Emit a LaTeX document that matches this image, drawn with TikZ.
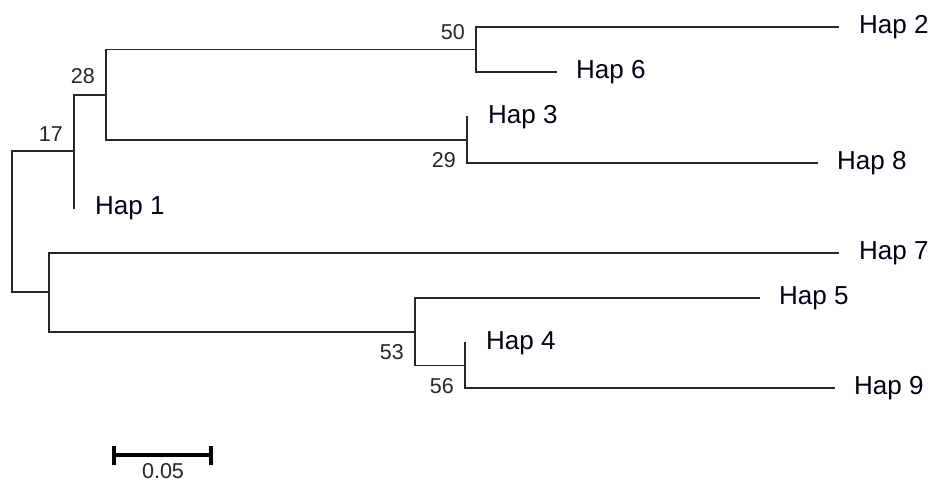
\documentclass[tikz,border=0pt]{standalone}
\usepackage{fontspec}
\setmainfont{Liberation Sans}
\begin{document}
\begin{tikzpicture}[x=1pt,y=-1pt,
  branch/.style={draw=black!85, line width=1.8pt, line cap=rect},
  taxon/.style={anchor=base west, inner sep=0pt, text=black!92!blue,
                font=\fontsize{26}{31}\selectfont},
  support/.style={anchor=base east, inner sep=0pt, text=black!85,
                  font=\fontsize{21.5}{26}\selectfont},
  scalebar/.style={draw=black, line width=4pt}]
\useasboundingbox (0,0) rectangle (933,482);

% internal nodes of the tree
\coordinate (root) at (12,221.5);
\coordinate (n17)  at (74,151);
\coordinate (n28)  at (106,95);
\coordinate (n50)  at (476,49.5);
\coordinate (n29)  at (467,140);
\coordinate (nB)   at (49,292);
\coordinate (n53)  at (415,332);
\coordinate (n56)  at (465,365.5);

% tips
\coordinate (t1) at (74,208);
\coordinate (t2) at (838,27);
\coordinate (t6) at (556,72);
\coordinate (t3) at (467,117);
\coordinate (t8) at (817,163);
\coordinate (t7) at (838,253);
\coordinate (t5) at (759,298);
\coordinate (t4) at (465,343);
\coordinate (t9) at (834,388);

% branches (rectangular cladogram)
\draw[branch] (root) |- (n17);
\draw[branch] (root) |- (nB);
\draw[branch] (n17) |- (n28);
\draw[branch] (n17) |- (t1);
\draw[branch] (n28) |- (n50);
\draw[branch] (n28) |- (n29);
\draw[branch] (n50) |- (t2);
\draw[branch] (n50) |- (t6);
\draw[branch] (n29) |- (t3);
\draw[branch] (n29) |- (t8);
\draw[branch] (nB) |- (t7);
\draw[branch] (nB) |- (n53);
\draw[branch] (n53) |- (t5);
\draw[branch] (n53) |- (n56);
\draw[branch] (n56) |- (t4);
\draw[branch] (n56) |- (t9);

% tip labels
\node[taxon] (hap1) at ([shift={(21,6)}]t1) {Hap 1};
\node[taxon] (hap2) at ([shift={(21,6)}]t2) {Hap 2};
\node[taxon] (hap6) at ([shift={(20,6)}]t6) {Hap 6};
\node[taxon] (hap3) at ([shift={(21,6)}]t3) {Hap 3};
\node[taxon] (hap8) at ([shift={(20,6)}]t8) {Hap 8};
\node[taxon] (hap7) at ([shift={(21,6)}]t7) {Hap 7};
\node[taxon] (hap5) at ([shift={(20,6)}]t5) {Hap 5};
\node[taxon] (hap4) at ([shift={(21,6)}]t4) {Hap 4};
\node[taxon] (hap9) at ([shift={(20,6)}]t9) {Hap 9};

% bootstrap support values
\node[support] (b17) at (63,141) {17};
\node[support] (b28) at (95,83)  {28};
\node[support] (b50) at (465,39) {50};
\node[support] (b29) at (456,167) {29};
\node[support] (b53) at (404,359) {53};
\node[support] (b56) at (454,393) {56};

% scale bar
\coordinate (sbL) at (114,455);
\coordinate (sbR) at (211,455);
\draw[scalebar] (sbL) -- (sbR);
\draw[scalebar] ([yshift=-10]sbL) -- ([yshift=9]sbL);
\draw[scalebar] ([yshift=-10]sbR) -- ([yshift=9]sbR);
\node[support, anchor=base] (sblabel) at (163,478.5) {0.05};
\end{tikzpicture}
\end{document}
